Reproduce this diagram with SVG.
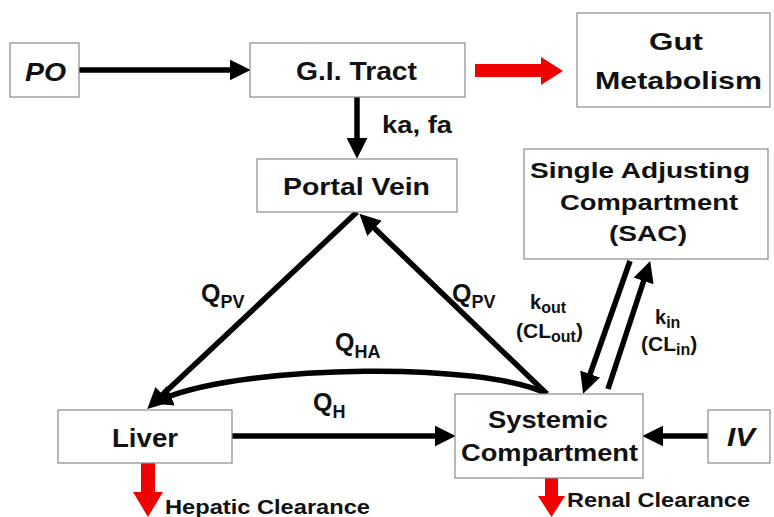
<svg xmlns="http://www.w3.org/2000/svg" width="774" height="517" viewBox="0 0 774 517">
<style>
.box{fill:#fff;stroke:#8a8a8a;stroke-width:1.2}
.t{font-family:"Liberation Sans",Arial,sans-serif;font-weight:bold;fill:#111}
.ln{fill:none;stroke:#000;stroke-width:5.5;marker-end:url(#ah)}
.red{fill:#f00000}
</style>
<defs>
<marker id="ah" markerUnits="userSpaceOnUse" markerWidth="21" markerHeight="21" viewBox="0 0 10 10" refX="3" refY="5" orient="auto">
<path d="M0,0 L10,5 L0,10 z" fill="#000"/>
</marker>
</defs>
<rect width="774" height="517" fill="#fff"/>
<g id="connectors">
<line class="ln" x1="79" y1="70" x2="236" y2="70"/>
<line class="ln" x1="357" y1="97" x2="357" y2="144"/>
<line class="ln" x1="357" y1="212" x2="158" y2="399"/>
<line class="ln" x1="547" y1="394" x2="370" y2="224"/>
<path class="ln" d="M547,394 C485,362 250,364 165,398"/>
<line class="ln" x1="232" y1="436" x2="441" y2="436"/>
<line class="ln" x1="708" y1="436" x2="657" y2="436"/>
<line class="ln" x1="630" y1="261" x2="588" y2="380"/>
<line class="ln" x1="608" y1="389" x2="645.6" y2="275"/>
<polygon class="red" points="475,64 541,64 541,57 563,71 541,85 541,77 475,77"/>
<polygon class="red" points="141,463 155,463 155,492 163,492 148,517 133,492 141,492"/>
<polygon class="red" points="545,478 558,478 558,496 565,496 551.5,517 538,496 545,496"/>
<text class="t" x="201" y="302" font-size="25">Q<tspan dy="6" font-size="18">PV</tspan></text>
<text class="t" x="452" y="302" font-size="25">Q<tspan dy="6" font-size="18">PV</tspan></text>
<text class="t" x="335" y="351" font-size="25">Q<tspan dy="7" font-size="18">HA</tspan></text>
<text class="t" x="313" y="411" font-size="25">Q<tspan dy="7" font-size="18">H</tspan></text>
<text class="t" x="382" y="133" font-size="23" textLength="70" lengthAdjust="spacingAndGlyphs">ka, fa</text>
<text class="t" x="530" y="309" font-size="20">k<tspan dy="4" font-size="16">out</tspan></text>
<text class="t" x="516" y="338" font-size="21">(CL<tspan dy="4" font-size="16">out</tspan><tspan dy="-4">)</tspan></text>
<text class="t" x="655" y="324" font-size="20">k<tspan dy="4" font-size="16">in</tspan></text>
<text class="t" x="641" y="351" font-size="21">(CL<tspan dy="4" font-size="16">in</tspan><tspan dy="-4">)</tspan></text>
<text class="t" x="165" y="514" font-size="21" textLength="205" lengthAdjust="spacingAndGlyphs">Hepatic  Clearance</text>
<text class="t" x="567" y="507" font-size="21" textLength="183" lengthAdjust="spacingAndGlyphs">Renal Clearance</text>
</g>
<g id="po">
<rect class="box" x="10" y="43" width="69" height="54"/>
<text class="t" x="25" y="81" font-size="25" font-style="italic" textLength="41" lengthAdjust="spacingAndGlyphs">PO</text>
</g>
<g id="gi">
<rect class="box" x="250" y="43" width="215" height="54"/>
<text class="t" x="296" y="80" font-size="25" textLength="121" lengthAdjust="spacingAndGlyphs">G.I. Tract</text>
</g>
<g id="gut">
<rect class="box" x="577" y="13" width="193" height="94"/>
<text class="t" x="649" y="50" font-size="24" textLength="54" lengthAdjust="spacingAndGlyphs">Gut</text>
<text class="t" x="595" y="89" font-size="24" textLength="167" lengthAdjust="spacingAndGlyphs">Metabolism</text>
</g>
<g id="portal">
<rect class="box" x="257" y="159" width="200" height="53"/>
<text class="t" x="283" y="195" font-size="24" textLength="147" lengthAdjust="spacingAndGlyphs">Portal Vein</text>
</g>
<g id="sac">
<rect class="box" x="524" y="149" width="244" height="110"/>
<text class="t" x="530" y="178" font-size="22" textLength="220" lengthAdjust="spacingAndGlyphs">Single Adjusting</text>
<text class="t" x="560" y="210" font-size="22" textLength="178" lengthAdjust="spacingAndGlyphs">Compartment</text>
<text class="t" x="609" y="241" font-size="22" textLength="78" lengthAdjust="spacingAndGlyphs">(SAC)</text>
</g>
<g id="liver">
<rect class="box" x="58" y="410" width="174" height="53"/>
<text class="t" x="112" y="447" font-size="25" textLength="66" lengthAdjust="spacingAndGlyphs">Liver</text>
</g>
<g id="systemic">
<rect class="box" x="455" y="394" width="188" height="84"/>
<text class="t" x="488" y="428" font-size="24" textLength="120" lengthAdjust="spacingAndGlyphs">Systemic</text>
<text class="t" x="461" y="461" font-size="24" textLength="177" lengthAdjust="spacingAndGlyphs">Compartment</text>
</g>
<g id="iv">
<rect class="box" x="708" y="410" width="62" height="53"/>
<text class="t" x="727" y="446" font-size="25" font-style="italic" textLength="28" lengthAdjust="spacingAndGlyphs">IV</text>
</g>
</svg>
